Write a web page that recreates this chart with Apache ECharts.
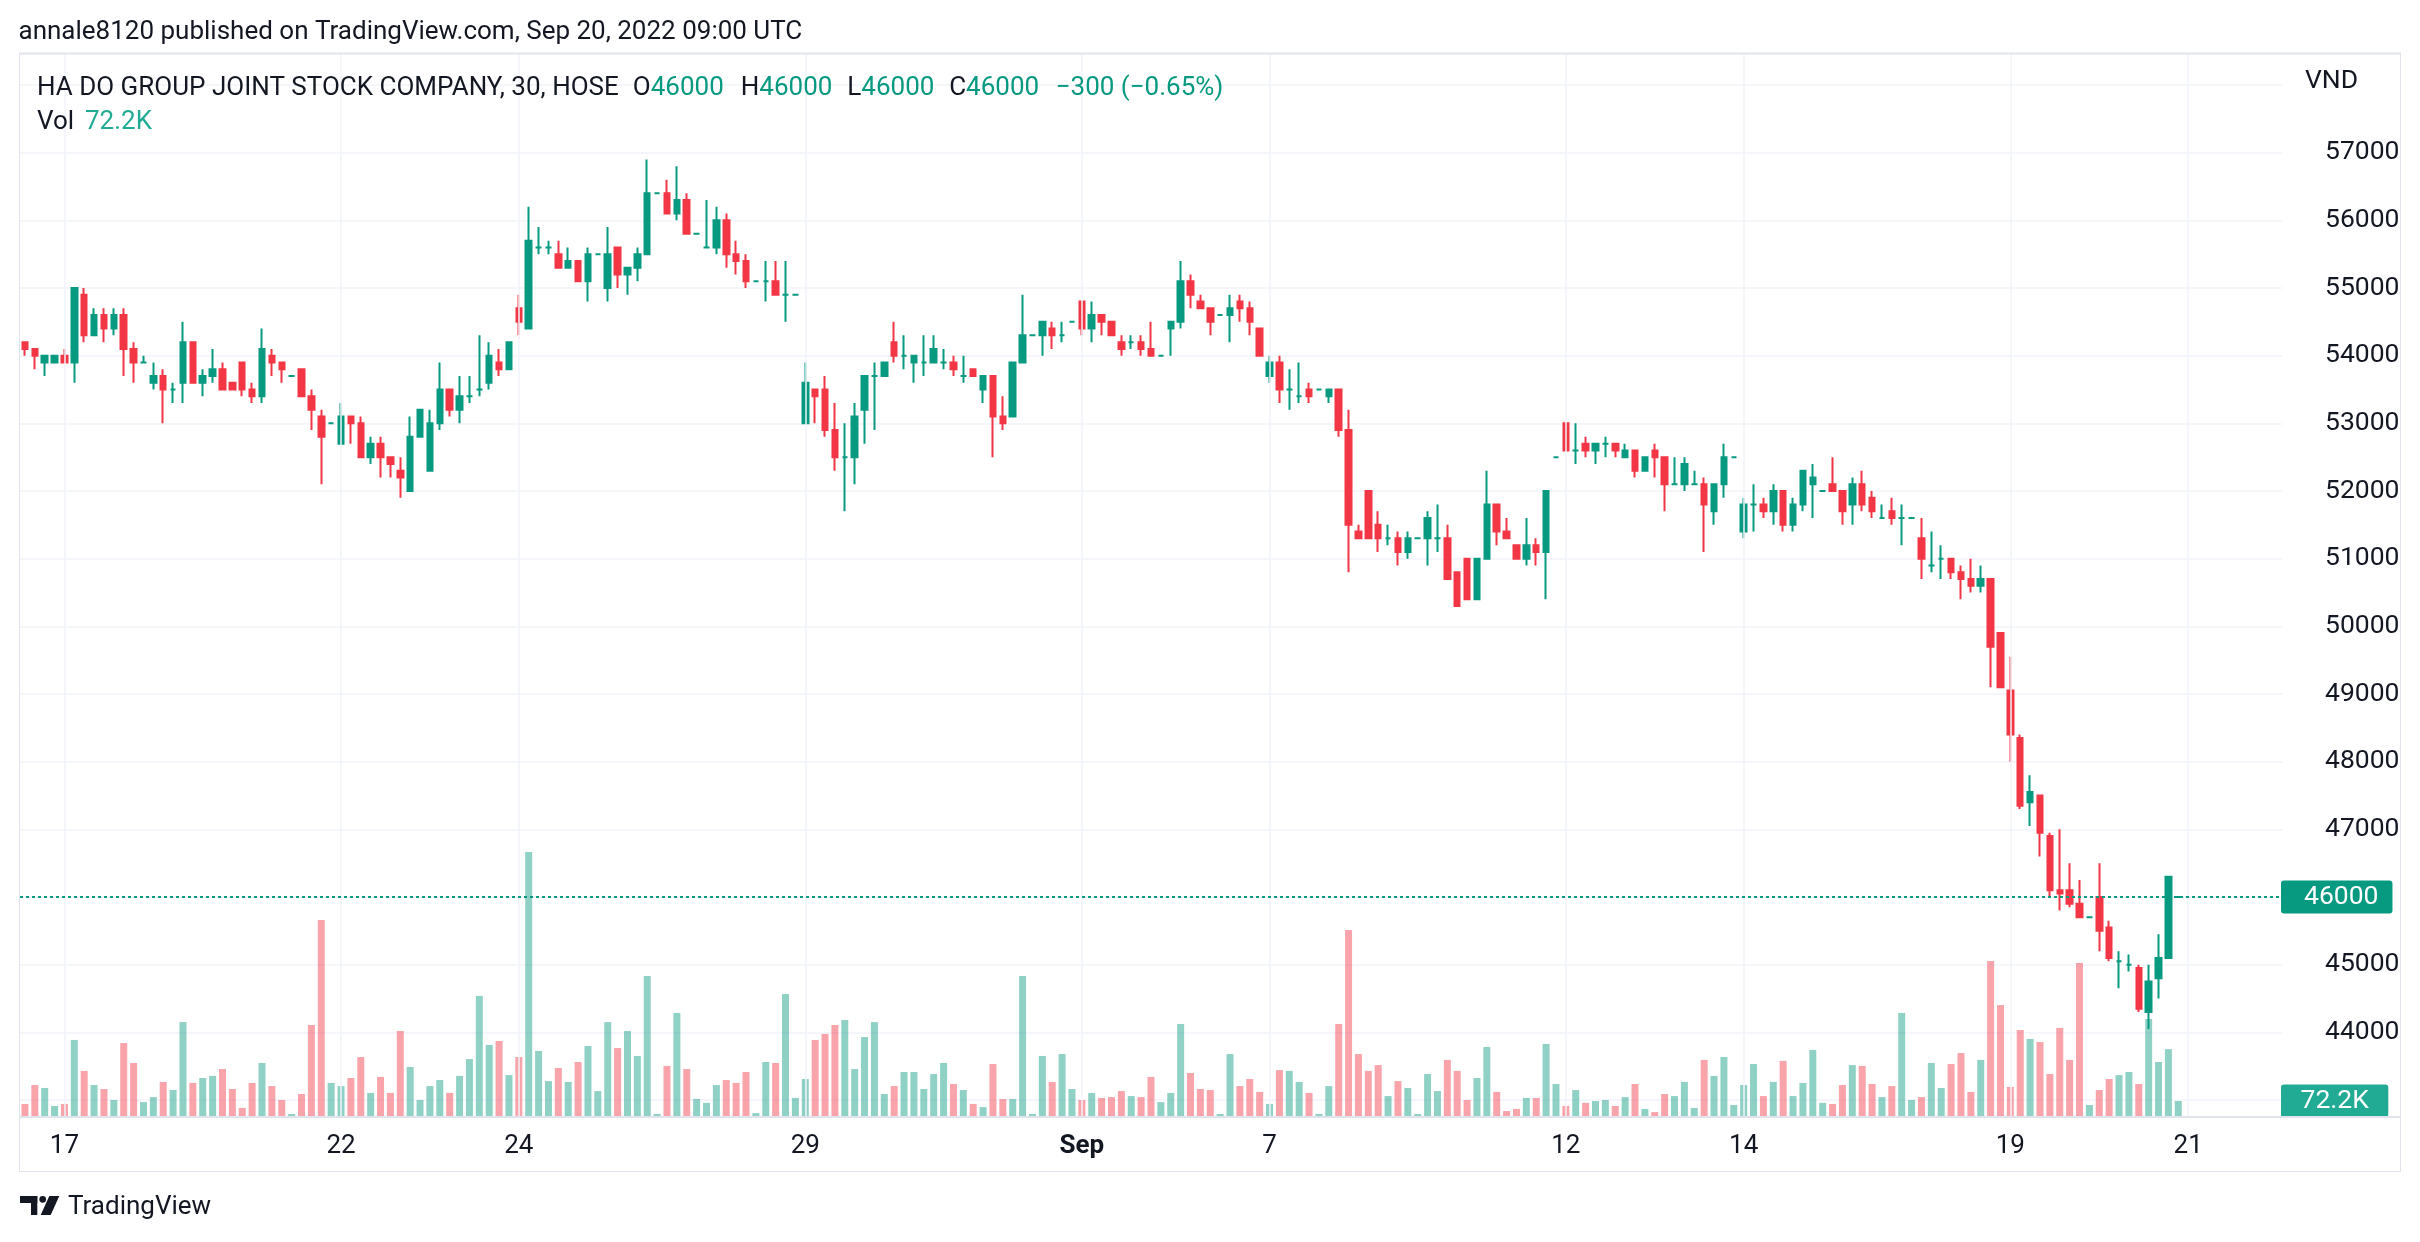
<!DOCTYPE html>
<html><head><meta charset="utf-8">
<script src="https://cdn.jsdelivr.net/npm/echarts@6/dist/echarts.min.js"></script>
<style>html,body{margin:0;padding:0;background:#fff}#c{width:2420px;height:1242px}</style>
</head><body><div id="c"></div>
<script>
// ---------------- data ----------------
const publishedText = 'annale8120 published on TradingView.com, Sep 20, 2022 09:00 UTC';
const symbolTitle = 'HA DO GROUP JOINT STOCK COMPANY, 30, HOSE';
const currency = 'VND';

const days = ['Aug 16','Aug 17','Aug 18','Aug 19','Aug 22','Aug 23','Aug 24','Aug 25','Aug 26','Aug 29','Aug 30','Aug 31',
  'Sep 5','Sep 6','Sep 7','Sep 8','Sep 9','Sep 12','Sep 13','Sep 14','Sep 15','Sep 16','Sep 19','Sep 20','Sep 21'];
const barsPerDay = [4,9,9,10,9,9,10,10,9,9,9,10,10,9,10,10,10,9,9,9,9,9,9,9,10];
const tickDays   = ['Aug 17','Aug 22','Aug 24','Aug 29','Sep 5','Sep 7','Sep 12','Sep 14','Sep 19','Sep 21'];
const tickLabels = ['17','22','24','29','Sep','7','12','14','19','21'];
const boldTicks  = ['Sep'];

const open = [
54200,54100,53900,53900,54000,53900,54900,54300,54600,54400,
54600,54100,53900,53600,53700,53500,53600,54200,53600,53700,
53800,53600,53900,53500,53400,54000,53900,53700,53800,53400,
53100,53000,52700,53100,53000,52500,52700,52500,52300,52000,
52800,52300,53000,53500,53200,53400,53500,53600,53900,53800,
54700,54400,55600,55600,55500,55300,55400,55100,55500,55000,
55600,55200,55300,55500,56400,56400,56100,56300,55800,55600,
55600,56000,55500,55400,55100,55100,55100,54900,54900,53000,
53500,53500,52900,52500,52500,53200,53700,53700,54200,54000,
53900,53900,53900,53900,53900,53700,53800,53500,53700,53100,
53100,53900,54300,54300,54400,54300,54500,54800,54400,54600,
54500,54200,54200,54200,54100,54000,54400,54500,55100,54800,
54700,54600,54600,54800,54700,54400,53700,53900,53500,53400,
53500,53500,53400,53500,52900,51400,52000,51500,51300,51300,
51100,51300,51300,51300,51300,50800,51000,50400,51000,51800,
51400,51200,51000,51200,51100,52500,53000,52600,52700,52600,
52700,52700,52500,52600,52300,52600,52500,52100,52100,52100,
52100,51700,52100,52500,51400,51800,51800,51700,52000,51500,
51800,52100,52000,52100,52000,51800,52100,51900,51600,51700,
51600,51600,51300,50900,51000,51000,50800,50700,50600,50700,
49900,49050,48350,47400,47500,46900,46100,46100,45900,45700,
46000,45550,45050,45000,44950,44300,44800,45100,46000];
const high = [
54200,54100,54000,54000,54100,55000,55000,54700,54700,54700,
54700,54200,54000,53900,53800,53600,54500,54200,53800,54100,
53900,53600,53900,53600,54400,54100,53900,53700,53800,53500,
53200,53000,53300,53100,53100,52800,52800,52500,52500,53100,
53200,53200,53900,53500,53700,53700,54300,54200,54100,54200,
54900,56200,55900,55700,55700,55600,55400,55600,55500,55900,
55600,55300,55600,56900,56400,56600,56800,56400,55800,56300,
56200,56100,55700,55500,55100,55400,55400,55400,54900,53900,
53500,53700,53300,53000,53300,53700,53900,53900,54500,54300,
54000,54300,54300,54100,54000,54000,53800,53700,53700,53400,
53900,54900,54300,54500,54500,54500,54500,54800,54800,54600,
54500,54300,54300,54300,54500,54000,54500,55400,55200,54900,
54700,54600,54900,54900,54800,54400,54000,54000,53800,53900,
53600,53500,53500,53500,53200,51500,52000,51700,51500,51400,
51400,51300,51700,51800,51500,50800,51000,51000,52300,51800,
51600,51200,51600,51300,52000,52500,53000,53000,52800,52700,
52800,52700,52700,52600,52500,52700,52500,52500,52500,52300,
52200,52100,52700,52500,51900,52100,51900,52100,52000,51900,
52300,52400,52000,52500,52000,52200,52300,52000,51800,51900,
51800,51600,51600,51400,51200,51000,50900,51000,50900,50700,
49900,49550,48400,47800,47500,46950,47000,46500,46250,45700,
46500,45650,45200,45150,45000,45000,45450,46300,46000];
const low = [
54000,53800,53700,53900,53900,53600,54200,54300,54200,54300,
53700,53600,53900,53500,53000,53300,53300,53600,53400,53600,
53500,53500,53400,53300,53300,53700,53600,53700,53400,52900,
52100,53000,52700,52700,52500,52400,52200,52200,51900,52000,
52800,52300,52900,53100,53000,53300,53400,53500,53700,53800,
54300,54400,55500,55500,55300,55300,55100,54800,55500,54800,
55000,54900,55100,55500,56400,56100,56000,55800,55800,55600,
55500,55300,55200,55000,55100,54800,54900,54500,54900,53000,
53000,52800,52300,51700,52100,52700,52900,53700,53900,53800,
53600,53700,53900,53800,53700,53600,53700,53300,52500,52900,
53100,53900,54300,54000,54100,54200,54500,54300,54200,54300,
54300,54000,54100,54000,54000,54000,54000,54400,54700,54700,
54300,54600,54200,54500,54300,54000,53600,53300,53200,53300,
53300,53500,53300,52800,50800,51300,51300,51100,51200,50900,
51000,51300,50900,51100,50700,50300,50400,50400,51000,51200,
51300,51000,50900,50900,50400,52500,52600,52400,52500,52400,
52500,52500,52500,52200,52300,52200,51700,52100,52000,52100,
51100,51500,51900,52500,51300,51400,51600,51500,51400,51400,
51700,51600,52000,52000,51500,51500,51700,51600,51600,51500,
51200,51600,50700,50800,50700,50700,50400,50500,50500,49100,
49100,48000,47300,47050,46600,46000,45800,45850,45700,45700,
45200,45050,44650,44900,44300,44050,44500,45100,46000];
const close = [
54100,54000,54000,54000,53900,55000,54300,54600,54400,54600,
54100,53900,53900,53700,53500,53500,54200,53600,53700,53800,
53500,53500,53500,53400,54100,53900,53800,53700,53400,53200,
52800,53000,53100,53000,52500,52700,52500,52400,52200,52800,
53200,53000,53500,53200,53400,53400,53500,54000,53800,54200,
54500,55700,55600,55600,55300,55400,55100,55500,55500,55500,
55200,55300,55500,56400,56400,56100,56300,55800,55800,55600,
56000,55500,55400,55100,55100,55100,54900,54900,54900,53600,
53400,52900,52500,52500,53100,53700,53700,53900,54000,54000,
54000,53900,54100,53900,53800,53700,53700,53700,53100,53000,
53900,54300,54300,54500,54300,54300,54500,54400,54600,54500,
54300,54100,54200,54100,54000,54000,54500,55100,54900,54700,
54500,54600,54700,54700,54500,54000,53900,53500,53500,53400,
53400,53500,53500,52900,51500,51300,51300,51300,51300,51100,
51300,51300,51600,51300,50700,50300,50400,51000,51800,51400,
51300,51000,51200,51100,52000,52500,52600,52600,52600,52700,
52700,52600,52600,52300,52500,52500,52100,52100,52400,52100,
51800,52100,52500,52500,51800,51800,51700,52000,51500,51800,
52300,52200,52000,52000,51700,52100,51800,51700,51600,51600,
51600,51600,51000,50900,51000,50800,50700,50600,50700,49700,
49100,48400,47350,47550,46950,46100,46050,45900,45700,45700,
45500,45100,45050,45000,44350,44750,45100,46300,46000];
const volumeK = [
58,149,135,48,58,366,217,149,130,77,
351,255,67,91,164,125,452,159,183,193,
226,130,39,159,255,144,77,10,106,438,
943,159,144,183,284,111,188,111,409,236,
77,144,173,111,193,274,578,342,361,197,
284,1271,313,168,231,164,260,337,120,452,
327,409,289,674,10,241,496,226,82,63,
149,173,159,212,14,260,255,587,87,178,
366,395,438,462,226,380,452,106,144,212,
212,130,202,255,154,125,58,43,250,82,
82,674,10,289,164,298,130,77,111,87,
91,120,96,91,188,67,111,443,207,130,
125,10,298,144,178,116,58,221,217,164,
111,10,144,443,895,298,217,245,96,168,
135,10,202,120,270,217,77,183,332,116,
24,34,87,87,347,154,48,125,63,72,
77,48,91,154,34,19,106,96,164,39,
270,193,284,53,149,250,96,164,265,96,
159,318,63,58,149,245,241,154,91,144,
496,77,91,255,135,250,303,116,270,746,
534,140,414,371,356,202,424,270,736,53,
125,178,197,212,154,467,260,322,72.2];

// ---------------- build ----------------
const UP = '#089981', DOWN = '#F23645', TEXT = '#131722', GRID = '#f0f3fa', FRAME = '#e0e3eb', VOLTEAL = '#22ab94';
const FONT = 'Roboto';
const categories = [];
const dayStart = {};
days.forEach((d, i) => {
  dayStart[d] = categories.length;
  for (let k = 0; k < barsPerDay[i]; k++) categories.push(d + ' #' + (k + 1));
});
const tickIndex = tickDays.map(d => dayStart[d]);
const labelByIndex = {};
tickIndex.forEach((idx, j) => { labelByIndex[idx] = tickLabels[j]; });

const candleData = open.map((o, i) => [o, close[i], low[i], high[i]]);
const volData = volumeK.map((v, i) => ({
  value: v,
  itemStyle: { color: close[i] >= open[i] ? 'rgba(8,153,129,0.45)' : 'rgba(242,54,69,0.45)' }
}));
const last = close.length - 1;
const chg = close[last] - close[last - 1];
const chgPct = chg / close[last - 1] * 100;
const signed = (v, d) => (v < 0 ? '\u2212' : '+') + Math.abs(v).toFixed(d);
const changeText = signed(chg, 0) + ' (' + signed(chgPct, 2) + '%)';
const volText = volumeK[last].toFixed(1) + 'K';

const FS = 26;      // header / axis text size
const AFS = 26.5;   // price axis text size
const hdr = (x, y, text, fill, rich) => ({ type: 'text', x, y, z: 100, silent: true,
  style: { text, fill: fill || TEXT, font: FS + 'px ' + FONT, verticalAlign: 'middle', rich } });
const richOHLC = { k: { fill: TEXT, color: TEXT, fontSize: FS, fontFamily: FONT },
                   v: { fill: UP, color: UP, fontSize: FS, fontFamily: FONT } };

const chart = echarts.init(document.getElementById('c'), null, { renderer: 'canvas' });
chart.setOption({
  animation: false,
  backgroundColor: '#ffffff',
  textStyle: { fontFamily: FONT },
  grid: [
    { left: 20, right: 138, top: 85, bottom: 142 },
    { left: 20, right: 138, top: 53, bottom: 126 }
  ],
  xAxis: [
    { type: 'category', gridIndex: 0, data: categories, boundaryGap: true, show: false },
    { type: 'category', gridIndex: 1, data: categories, boundaryGap: true,
      axisLine: { show: false }, axisTick: { show: false }, splitLine: { show: false },
      axisLabel: {
        interval: (i) => labelByIndex[i] !== undefined,
        formatter: (v, i) => {
          const l = labelByIndex[i];
          if (l === undefined) return '';
          return boldTicks.includes(l) ? '{b|' + l + '}' : l;
        },
        margin: 17, fontSize: FS, color: TEXT, fontFamily: FONT,
        rich: { b: { fontWeight: 'bold', fontSize: FS, color: TEXT, fontFamily: FONT } }
      } }
  ],
  yAxis: [
    { type: 'value', gridIndex: 0, position: 'right', min: 43000, max: 58000, interval: 1000,
      axisLine: { show: false }, axisTick: { show: false },
      axisLabel: { margin: 23, align: 'left', padding: [0, 0, 0, 20], fontSize: AFS, color: TEXT, fontFamily: FONT,
                   showMinLabel: false, showMaxLabel: false,
                   // the tick under the last-price badge is covered by it
                   formatter: (v) => (v === close[last] ? '' : String(v)) },
      splitLine: { lineStyle: { color: GRID, width: 1.5 } } },
    { type: 'value', gridIndex: 1, min: 0, max: 5116, show: false, splitLine: { show: false } }
  ],
  series: [
    { type: 'line', xAxisIndex: 1, yAxisIndex: 1, data: [], z: 1, silent: true,
      markLine: { silent: true, symbol: 'none', animation: false, label: { show: false },
        lineStyle: { color: GRID, width: 1.5, type: 'solid' },
        data: tickIndex.map(i => ({ xAxis: i })) } },
    { type: 'bar', name: 'Vol', xAxisIndex: 1, yAxisIndex: 1, data: volData, barWidth: 7, z: 2, silent: true,
      markLine: { silent: true, symbol: 'none', animation: false,
        lineStyle: { color: 'rgba(0,0,0,0)', width: 0 },
        label: { show: true, position: 'end', distance: -1, align: 'left', formatter: volText,
          backgroundColor: VOLTEAL, color: '#fff', fontSize: AFS, fontFamily: FONT,
          padding: [3, 19.5, 3, 19.5], borderRadius: 3 },
        data: [{ yAxis: volumeK[last] }] } },
    { type: 'candlestick', xAxisIndex: 0, yAxisIndex: 0, data: candleData, barWidth: 6, z: 3, silent: true,
      itemStyle: { color: UP, color0: DOWN, borderColor: UP, borderColor0: DOWN, borderColorDoji: UP, borderWidth: 2 },
      markLine: { silent: true, symbol: 'none', animation: false,
        lineStyle: { color: UP, width: 2, type: [3, 3] },
        label: { show: true, position: 'end', distance: -1, align: 'left', formatter: String(close[last]),
          backgroundColor: UP, color: '#fff', fontSize: AFS, fontFamily: FONT,
          padding: [3, 14, 3, 23], borderRadius: 3 },
        data: [{ yAxis: close[last] }] } }
  ],
  graphic: { elements: [
    { type: 'rect', silent: true, z: 90, shape: { x: 19.5, y: 53.5, width: 2381, height: 1118 },
      style: { fill: 'none', stroke: FRAME, lineWidth: 1 } },
    { type: 'line', silent: true, z: 90, shape: { x1: 19, y1: 53.5, x2: 2401, y2: 53.5 }, style: { stroke: FRAME, lineWidth: 2 } },
    { type: 'line', silent: true, z: 90, shape: { x1: 19, y1: 1117, x2: 2401, y2: 1117 }, style: { stroke: FRAME, lineWidth: 2 } },
    hdr(18.5, 32, publishedText),
    hdr(37, 88, symbolTitle),
    hdr(632.8, 88, '{k|O}{v|' + open[last] + '}', TEXT, richOHLC),
    hdr(740.8, 88, '{k|H}{v|' + high[last] + '}', TEXT, richOHLC),
    hdr(847.3, 88, '{k|L}{v|' + low[last] + '}', TEXT, richOHLC),
    hdr(949.2, 88, '{k|C}{v|' + close[last] + '}', TEXT, richOHLC),
    hdr(1055.7, 88, changeText, UP),
    hdr(37, 122, 'Vol'),
    hdr(85, 122, volText, VOLTEAL),
    { type: 'text', x: 2305, y: 81, z: 100, silent: true, style: { text: currency, fill: TEXT, font: AFS + 'px ' + FONT, verticalAlign: 'middle' } },
    // TradingView logo
    { type: 'rect', silent: true, shape: { x: 20, y: 1196, width: 17.3, height: 7 }, style: { fill: TEXT } },
    { type: 'rect', silent: true, shape: { x: 31, y: 1196, width: 6.3, height: 19 }, style: { fill: TEXT } },
    { type: 'circle', silent: true, shape: { cx: 42.7, cy: 1199.3, r: 3.4 }, style: { fill: TEXT } },
    { type: 'polygon', silent: true, shape: { points: [[49.3, 1196], [59.3, 1196], [50.7, 1215], [40.7, 1215]] }, style: { fill: TEXT } },
    { type: 'text', x: 68, y: 1207, silent: true, style: { text: 'TradingView', fill: TEXT, font: '26px ' + FONT, verticalAlign: 'middle' } }
  ] }
});
</script></body></html>
